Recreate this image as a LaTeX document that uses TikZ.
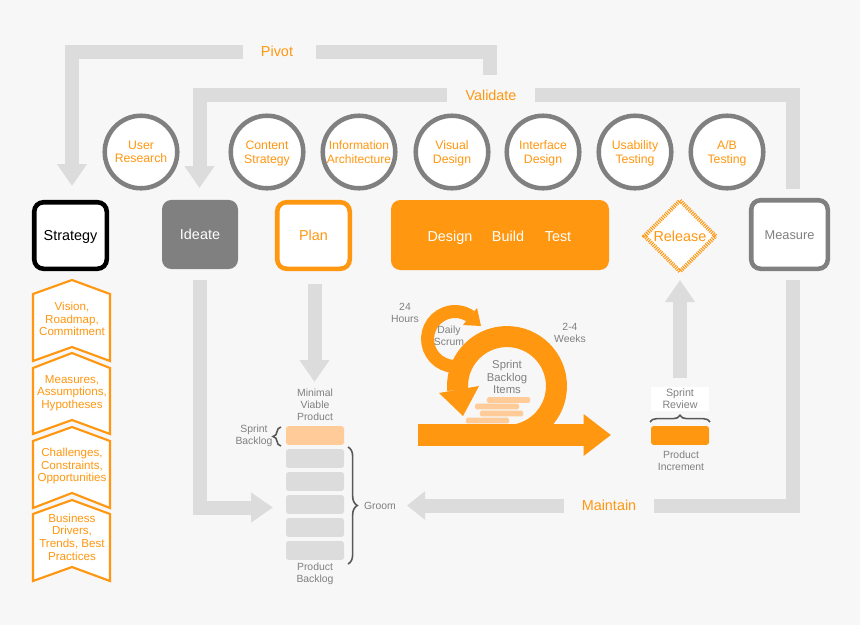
\documentclass[tikz,border=0pt]{standalone}
\usepackage{fontspec}
\setmainfont{Liberation Sans}
\usetikzlibrary{shapes.geometric}
\usetikzlibrary{positioning}
\usetikzlibrary{arrows.meta}
\usetikzlibrary{decorations.pathreplacing}
\definecolor{bgpage}{HTML}{F7F7F7}
\definecolor{bandgrey}{HTML}{DCDCDC}
\definecolor{midgrey}{HTML}{808080}
\definecolor{orangemain}{HTML}{FF9710}
\definecolor{orangelight}{HTML}{FFCC99}
\definecolor{bracegrey}{HTML}{595959}
\tikzset{
  band/.style={draw=bandgrey, line width=10.5pt},
  fatarrow/.style={band, -{Triangle[length=16.5pt,width=21.5pt]}},
  flowlabel/.style={text=orangemain, inner sep=0pt, text height=8pt, text depth=0pt, font=\fontsize{10.8}{12}\selectfont},
  practice/.style={draw=midgrey, line width=3.4pt, fill=white, circle, minimum size=54.4pt, inner sep=0pt, align=center, text=orangemain, text depth=0pt, font=\fontsize{9.2}{10.1}\selectfont},
  phasebox/.style={rounded corners=7pt, minimum width=54.4pt, minimum height=49.9pt, inner sep=0pt, line width=3.4pt, fill=white, text height=8pt, text depth=0pt, font=\fontsize{10.8}{12}\selectfont},
  chevron/.style={draw=orangemain, line width=1.6pt, fill=white, line join=miter},
  chevrontext/.style={align=center, text=orangemain, inner sep=0pt, font=\fontsize{8.7}{9.5}\selectfont},
  greytext/.style={align=center, text=midgrey, inner sep=0pt, font=\fontsize{7.8}{9}\selectfont},
  backlogbar/.style={fill=bandgrey, rounded corners=2pt, minimum width=43.5pt, minimum height=14.2pt, inner sep=0pt},
  itembar/.style={fill=orangelight, rounded corners=1pt, minimum height=4.2pt, inner sep=0pt},
  bracket/.style={draw=bracegrey, line width=1.2pt, decorate}
}
\begin{document}
\begin{tikzpicture}[x=0.75pt,y=-0.75pt]
  \useasboundingbox[fill=bgpage] (0,0) rectangle (860,625);

  % Pivot and Validate loops
  \node[flowlabel, minimum width=51pt, minimum height=10pt] (pivot) at (277,51.5) {Pivot};
  \node[flowlabel, minimum width=66pt, minimum height=10pt] (validate) at (491,95) {Validate};
  \coordinate (pivotend) at (490,75);
  \coordinate (pivottip) at (72,186);
  \coordinate (validatetip) at (199.5,188);
  \coordinate (validateend) at (793,189);
  \draw[band] (pivotend) |- ([xshift=3.75pt]pivot.east);
  \draw[fatarrow] (pivot.west) -| (pivottip);
  \draw[band] (validateend) |- (validate.east);
  \draw[fatarrow] (validate.west) -| (validatetip);

  % Practices
  \node[practice] (research) at (141,152) {User\\Research};
  \node[practice] (content) at (267,152) {Content\\Strategy};
  \node[practice, font=\fontsize{9}{10.1}\selectfont] (information) at (359,152) {Information\\Architecture};
  \node[practice] (visual) at (452,152) {Visual\\Design};
  \node[practice] (interface) at (543,152) {Interface\\Design};
  \node[practice] (usability) at (635,152) {Usability\\Testing};
  \node[practice] (abtest) at (727,152) {A/B\\Testing};

  % Phases
  \node[phasebox, draw=black] (strategy) at (70.5,235.5) {Strategy};
  \node[phasebox, fill=midgrey, text=white, minimum width=57pt, minimum height=51.8pt, line width=0pt] (ideate) at (200,234.5) {Ideate};
  \node[phasebox, draw=orangemain, text=orangemain] (plan) at (313.5,235.5) {Plan};
  \node[phasebox, fill=orangemain, minimum width=163.5pt, minimum height=52.5pt, line width=0pt] (dbt) at (500,235) {};
  \node[flowlabel, text=white] (design) at (450,236) {Design};
  \node[flowlabel, text=white] (build) at (508,236) {Build};
  \node[flowlabel, text=white] (test) at (558,236) {Test};
  \node[draw=orangemain, diamond, aspect=1, fill=white, minimum size=54.5pt, inner sep=0pt, line width=3pt, dash pattern=on 0.8pt off 0.8pt, text=orangemain, text height=8pt, text depth=0pt, font=\fontsize{10.8}{12}\selectfont] (release) at (680,236) {Release};
  \node[phasebox, draw=midgrey, text=midgrey, minimum width=57.4pt, minimum height=51.4pt, text height=7pt, font=\fontsize{9.6}{12}\selectfont] (measure) at (789.5,234.5) {Measure};

  % Strategy stack
  \draw[chevron] (33,294) -- (72,280) -- (110,294) -- (110,361) -- (72,347) -- (33,361) -- cycle;
  \draw[chevron] (33,368) -- (72,353) -- (110,368) -- (110,434) -- (72,420) -- (33,434) -- cycle;
  \draw[chevron] (33,441) -- (72,427) -- (110,441) -- (110,508) -- (72,493) -- (33,508) -- cycle;
  \draw[chevron] (33,514) -- (72,500) -- (110,514) -- (110,581) -- (72,567) -- (33,581) -- cycle;
  \node[chevrontext] (vision) at (72,319) {Vision,\\Roadmap,\\Commitment};
  \node[chevrontext] (measures) at (72,393) {Measures,\\Assumptions,\\Hypotheses};
  \node[chevrontext] (challenges) at (72,466) {Challenges,\\Constraints,\\Opportunities};
  \node[chevrontext] (drivers) at (72,537) {Business\\Drivers,\\Trends, Best\\Practices};

  % Backlog
  \node[backlogbar, fill=orangelight] (sprintbar) at (315,435.5) {};
  \node[backlogbar] (barone) at (315,458.5) {};
  \node[backlogbar] (bartwo) at (315,481.5) {};
  \node[backlogbar] (barthree) at (315,504.5) {};
  \node[backlogbar] (barfour) at (315,527.5) {};
  \node[backlogbar] (barfive) at (315,550.5) {};
  \node[greytext] (minimal) at (315,404.5) {Minimal\\Viable\\Product};
  \node[greytext] (sprintlabel) at (254,436) {Sprint\\Backlog};
  \node[greytext] (productlabel) at (315,573.5) {Product\\Backlog};
  \node[greytext] (groom) at (380,506) {Groom};
  \draw[bracket, decoration={brace,amplitude=6pt}] (281,446) -- (281,427);
  \draw[bracket, decoration={brace,amplitude=7pt}] (348,447) -- (348,564);

  % Flow into the backlog
  \coordinate (ideatetail) at (199.5,280);
  \coordinate (plantail) at (314.5,284);
  \coordinate (ideatetip) at (273,507.5);
  \coordinate (plantip) at (314.5,382);
  \draw[fatarrow] (ideatetail) |- (ideatetip);
  \draw[fatarrow] (plantail) -- (plantip);

  % Daily loop
  \draw[orangemain, line width=9.75pt] (464.4,364.8) arc[start angle=-70, end angle=-305, radius=20.6pt];
  \fill[orangemain] (477,308) -- (463,325) -- (481,326) -- cycle;

  % Sprint loop
  \draw[orangemain, line width=15.75pt] (507,435.5) arc[start angle=-90, end angle=185, radius=37.1pt];
  \fill[orangemain] (439,393) -- (479,386) -- (463,416) -- cycle;
  \coordinate (sprintstart) at (418,435);
  \coordinate (sprinttip) at (611,435);
  \draw[orangemain, line width=16.5pt, -{Triangle[length=20.5pt,width=30pt]}] (sprintstart) -- (sprinttip);
  \node[itembar, minimum width=32.3pt] (itemone) at (508.5,400) {};
  \node[itembar, minimum width=33pt] (itemtwo) at (497,406.5) {};
  \node[itembar, minimum width=32.3pt] (itemthree) at (501.5,413.5) {};
  \node[itembar, minimum width=32.3pt] (itemfour) at (487.5,420.5) {};
  \node[greytext] (hours) at (405,313) {24\\Hours};
  \node[greytext] (weeks) at (570,333) {2-4\\Weeks};
  \node[greytext] (daily) at (449,335.5) {Daily\\Scrum};
  \node[greytext, font=\fontsize{8.5}{9.5}\selectfont] (items) at (507,377) {Sprint\\Backlog\\Items};

  % Increment and review
  \node[fill=white, minimum width=43.5pt, minimum height=18pt, inner sep=0pt, align=center, text=midgrey, font=\fontsize{8}{9}\selectfont] (review) at (680,399) {Sprint\\Review};
  \draw[bracket, decoration={brace,amplitude=5pt}] (650,422) -- (710,422);
  \node[backlogbar, fill=orangemain] (increment) at (680,435.5) {};
  \node[greytext] (productinc) at (681,461) {Product\\Increment};
  \coordinate (releasetip) at (680,280);
  \draw[fatarrow] (680,378) -- (releasetip);

  % Maintain
  \node[flowlabel, minimum width=67.5pt, minimum height=10pt] (maintain) at (609,505.5) {Maintain};
  \coordinate (measuretail) at (793,280);
  \coordinate (maintaintip) at (407,505.5);
  \draw[band] (measuretail) |- (maintain.east);
  \draw[band, -{Triangle[length=13.5pt,width=20.5pt]}] (maintain.west) -- (maintaintip);
\end{tikzpicture}
\end{document}
